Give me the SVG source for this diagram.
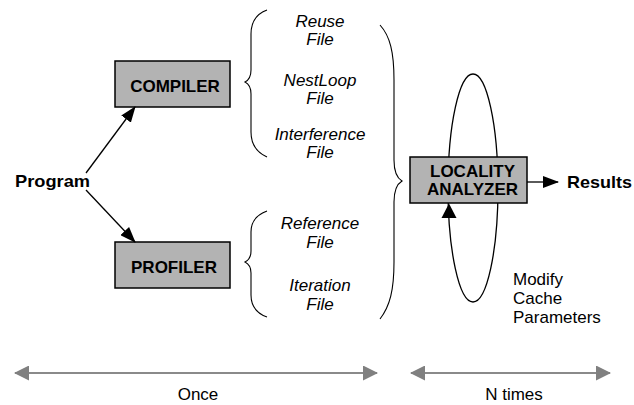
<svg xmlns="http://www.w3.org/2000/svg" width="634" height="405" viewBox="0 0 634 405">
  <style>
    text { font-family: "Liberation Sans", Arial, sans-serif; font-size: 17px; fill: #000; }
    .bold { font-weight: bold; }
    .file { font-style: italic; text-anchor: middle; }
    .mid { text-anchor: middle; }
    .box { fill: #b3b3b3; stroke: #000; stroke-width: 1.5; }
    .line { fill: none; stroke: #000; stroke-width: 1.3; }
    .brace { fill: none; stroke: #000; stroke-width: 1.1; }
    .span { fill: none; stroke: #8a8a8a; stroke-width: 2; }
  </style>
  <defs>
    <marker id="head" viewBox="0 0 16 12" refX="15" refY="6" markerWidth="16" markerHeight="12" markerUnits="userSpaceOnUse" orient="auto">
      <path d="M0,0 L16,6 L0,12 Z" fill="#000"/>
    </marker>
    <marker id="grayhead" viewBox="0 0 15 15" refX="14" refY="7.5" markerWidth="15" markerHeight="15" markerUnits="userSpaceOnUse" orient="auto-start-reverse">
      <path d="M0,0 L15,7.5 L0,15 Z" fill="#808080"/>
    </marker>
  </defs>

  <!-- feedback loop around the analyzer, drawn under the box -->
  <g id="loop">
    <ellipse class="line" cx="473" cy="188" rx="25" ry="114"/>
  </g>

  <g id="program">
    <text class="bold" x="15" y="187" textLength="75" lengthAdjust="spacingAndGlyphs">Program</text>
  </g>

  <g id="compiler">
    <rect class="box" x="115" y="61" width="115" height="46"/>
    <text class="bold mid" x="175" y="91.5">COMPILER</text>
  </g>

  <g id="profiler">
    <rect class="box" x="115" y="242" width="115" height="46"/>
    <text class="bold mid" x="174" y="272.5">PROFILER</text>
  </g>

  <g id="compiler-files">
    <path class="brace" d="M267,10 C256,14 251,22 251,34 L251,70 C251,77 249,80 245,82 C249,84 251,87 251,94 L251,132 C251,144 256,152 267,157"/>
    <text class="file" x="320" y="27">Reuse</text>
    <text class="file" x="320" y="45">File</text>
    <text class="file" x="320" y="86">NestLoop</text>
    <text class="file" x="320" y="104">File</text>
    <text class="file" x="320" y="140">Interference</text>
    <text class="file" x="320" y="158">File</text>
  </g>

  <g id="profiler-files">
    <path class="brace" d="M267,211 C256,215 251,222 251,232 L251,251 C251,257 249,260 245,262 C249,264 251,267 251,273 L251,295 C251,306 256,313 267,317"/>
    <text class="file" x="320" y="229">Reference</text>
    <text class="file" x="320" y="248">File</text>
    <text class="file" x="320" y="291">Iteration</text>
    <text class="file" x="320" y="310">File</text>
  </g>

  <g id="all-files-brace">
    <path class="brace" d="M380,25 C390,36 394,52 394,80 L394,160 C394,172 397,178 402,181 C397,184 394,190 394,202 L394,262 C394,290 390,306 380,319"/>
  </g>

  <g id="analyzer">
    <rect class="box" x="410" y="157" width="117" height="46"/>
    <text class="bold mid" x="472.5" y="177">LOCALITY</text>
    <text class="bold mid" x="472.5" y="195">ANALYZER</text>
  </g>

  <g id="results">
    <text class="bold" x="567" y="188" textLength="65" lengthAdjust="spacingAndGlyphs">Results</text>
  </g>

  <g id="modify-note">
    <text x="513" y="285">Modify</text>
    <text x="513" y="304">Cache</text>
    <text x="513" y="323">Parameters</text>
  </g>

  <g id="connectors">
    <line class="line" x1="86" y1="173" x2="135" y2="107" marker-end="url(#head)"/>
    <line class="line" x1="86" y1="190" x2="135" y2="242" marker-end="url(#head)"/>
    <line class="line" x1="527" y1="182" x2="558" y2="182" marker-end="url(#head)"/>
    <path d="M441.5,218 L449,203.5 L456.5,218 Z" fill="#000"/>
  </g>

  <g id="spans">
    <line class="span" x1="15" y1="373" x2="377" y2="373" marker-start="url(#grayhead)" marker-end="url(#grayhead)"/>
    <text class="mid" x="198" y="400">Once</text>
    <line class="span" x1="411" y1="373" x2="610" y2="373" marker-start="url(#grayhead)" marker-end="url(#grayhead)"/>
    <text class="mid" x="514" y="400">N times</text>
  </g>
</svg>
